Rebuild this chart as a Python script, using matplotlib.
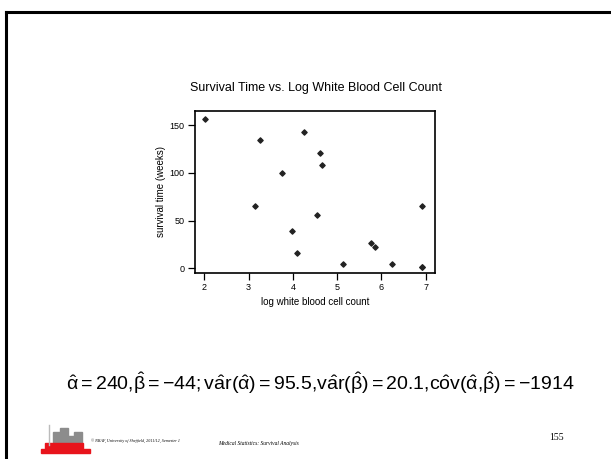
import matplotlib.pyplot as plt
from matplotlib.patches import Rectangle
from matplotlib.lines import Line2D

# log white blood cell count and survival time (weeks)
log_wbc = [3.14, 2.01, 3.76, 3.26, 4.09, 4.65, 4.61, 5.14, 3.99,
           4.25, 4.54, 5.77, 5.86, 6.91, 6.91, 6.25, 6.91]
survival = [65, 156, 100, 134, 16, 108, 121, 4, 39,
            143, 56, 26, 22, 1, 1, 5, 65]
x_ticks = [2, 3, 4, 5, 6, 7]
y_ticks = [0, 50, 100, 150]

plt.rcParams['font.family'] = ['Liberation Sans', 'DejaVu Sans']
plt.rcParams['mathtext.fontset'] = 'custom'
plt.rcParams['mathtext.rm'] = 'Liberation Sans'
plt.rcParams['mathtext.it'] = 'Liberation Sans'

W, H = 611, 459
fig = plt.figure(figsize=(W / 100, H / 100), dpi=100)


def fx(px):
    return px / W


def fy(py):
    return 1 - py / H


# slide frame (top and left edges only)
fig.add_artist(Line2D([fx(6), 1], [fy(11.5), fy(11.5)], color='black', lw=2.2))
fig.add_artist(Line2D([fx(6), fx(6)], [fy(11.5), 0], color='black', lw=2.2))

ax = fig.add_axes([fx(194.5), fy(273), fx(435) - fx(194.5), fy(110.7) - fy(273)])
ax.scatter(log_wbc, survival, marker='D', s=7, color='#222222', zorder=3)
ax.set_xlim(1.78, 7.21)
ax.set_ylim(-4.9, 165)
ax.set_xticks(x_ticks)
ax.set_yticks(y_ticks)
ax.tick_params(direction='out', length=5, width=0.9, labelsize=6.5, pad=2)
for s in ax.spines.values():
    s.set_linewidth(1.2)
ax.set_xlabel('log white blood cell count', fontsize=7, labelpad=4)
ax.set_ylabel('survival time (weeks)', fontsize=7, labelpad=3)

fig.text(fx(316), fy(88), 'Survival Time vs. Log White Blood Cell Count',
         ha='center', va='center', fontsize=9)

formula = (r'$\hat{\alpha}=240{,}\hat{\beta}=-44{;}\mathrm{v\hat{a}r}(\hat{\alpha})=95.5{,}'
           r'\mathrm{v\hat{a}r}(\hat{\beta})=20.1{,}'
           r'\mathrm{c\hat{o}v}(\hat{\alpha}{,}\hat{\beta})=-1914$')
fig.text(fx(320), fy(383), formula, ha='center', va='center', fontsize=14)

# footer logo (simple blocks)
grey = '#8c8c8c'
for x0, y0, w, h in [(53, 432, 7, 15), (60, 428, 8, 19), (68, 436, 6, 11), (74, 432, 8, 15)]:
    fig.add_artist(Rectangle((fx(x0), fy(y0 + h)), w / W, h / H, color=grey,
                             transform=fig.transFigure))
fig.add_artist(Line2D([fx(49), fx(49)], [fy(425), fy(445)], color='#bbbbbb', lw=1))
fig.add_artist(Rectangle((fx(45), fy(449)), 38 / W, 6 / H, color='#e8141c',
                         transform=fig.transFigure))
fig.add_artist(Rectangle((fx(41), fy(453)), 49 / W, 4 / H, color='#e8141c',
                         transform=fig.transFigure))

fig.text(fx(91), fy(441), '\u00a9 NRAF, University of Sheffield, 2011/12, Semester 1',
         fontsize=3, family='Liberation Serif', style='italic', va='center')
fig.text(fx(218), fy(443), 'Medical Statistics: Survival Analysis',
         fontsize=4, family='Liberation Serif', style='italic', va='center')
fig.text(fx(557), fy(437), '155', fontsize=7, family='Liberation Serif',
         ha='center', va='center')

fig.savefig('out.png', dpi=100)
